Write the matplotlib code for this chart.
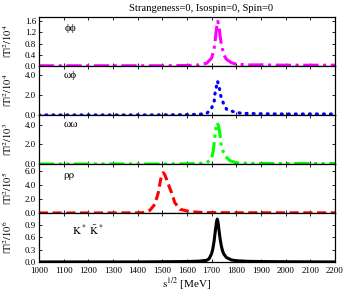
import numpy as np
import matplotlib
matplotlib.use("Agg")
import matplotlib.pyplot as plt

plt.rcParams['font.family'] = ['Liberation Serif', 'DejaVu Serif']
plt.rcParams['mathtext.fontset'] = 'stix'
plt.rcParams['font.size'] = 6.5

# phi phi  (units of 10^4)
x_pp = [1000, 1100, 1200, 1300, 1400, 1500, 1600, 1650, 1680, 1700, 1710, 1715, 1720, 1725,
        1730, 1735, 1740, 1750, 1760, 1780, 1800, 1850, 1900, 2000, 2100, 2200]
y_pp = [0.01, 0.01, 0.01, 0.01, 0.01, 0.01, 0.02, 0.04, 0.10, 0.28, 0.60, 0.95, 1.35, 1.60,
        1.42, 1.05, 0.75, 0.40, 0.24, 0.12, 0.07, 0.04, 0.04, 0.03, 0.03, 0.03]

# omega phi  (units of 10^4)
x_wp = [1000, 1100, 1200, 1300, 1400, 1500, 1600, 1650, 1681, 1700, 1711, 1713, 1719, 1724,
        1732, 1738, 1747, 1761, 1792, 1822, 1900, 2000, 2100, 2200]
y_wp = [0.0, 0.0, 0.0, 0.0, 0.0, 0.01, 0.03, 0.07, 0.17, 0.67, 1.43, 2.03, 2.77, 3.40,
        2.63, 1.83, 1.23, 0.57, 0.30, 0.17, 0.12, 0.10, 0.10, 0.10]

# omega omega  (units of 10^3)
x_ww = [1000, 1100, 1200, 1300, 1400, 1500, 1600, 1650, 1680, 1700, 1707, 1713, 1718, 1723,
        1728, 1734, 1740, 1754, 1774, 1801, 1850, 1900, 2000, 2100, 2200]
y_ww = [0.0, 0.0, 0.0, 0.0, 0.0, 0.0, 0.02, 0.05, 0.15, 0.50, 1.36, 2.74, 3.70, 4.20,
        3.90, 3.08, 1.71, 0.85, 0.34, 0.12, 0.07, 0.05, 0.05, 0.05, 0.05]

# rho rho  (units of 10^5)
x_rr = [1000, 1100, 1200, 1300, 1400, 1423, 1450, 1470, 1484, 1490, 1495, 1500, 1504, 1510,
        1520, 1530, 1538, 1551, 1572, 1612, 1666, 1700, 1800, 1900, 2000, 2100, 2200]
y_rr = [0.0, 0.0, 0.0, 0.0, 0.02, 0.05, 0.38, 1.24, 2.90, 4.10, 5.00, 5.55, 5.75, 5.50,
        4.60, 3.60, 2.90, 1.47, 0.53, 0.19, 0.07, 0.05, 0.03, 0.03, 0.02, 0.02, 0.02]

# K* anti-K*  (units of 10^6)
x_kk = [1000, 1200, 1400, 1500, 1600, 1650, 1680, 1690, 1700, 1705, 1710, 1715, 1720, 1723,
        1726, 1730, 1735, 1740, 1745, 1750, 1760, 1780, 1800, 1850, 1900, 2000, 2200]
y_kk = [0.0, 0.0, 0.0, 0.005, 0.01, 0.02, 0.04, 0.08, 0.20, 0.32, 0.50, 0.75, 0.98, 1.05,
        0.98, 0.78, 0.55, 0.38, 0.26, 0.19, 0.11, 0.05, 0.03, 0.015, 0.01, 0.005, 0.0]

panels = [
    (x_pp, y_pp, "#ff00ff", (0, (5, 1.5, 1, 1.5)), r"ϕϕ", 4, (0, 1.75), [0, 0.4, 0.8, 1.2, 1.6], 0.76, 1105),
    (x_wp, y_wp, "#0000ff", (0, (0.3, 1.9)), r"ωϕ", 4, (0, 4.9), [0, 2, 4], 0.8, 1101),
    (x_ww, y_ww, "#00ff00", (0, (5, 1.5, 1, 1.5, 1, 1.5)), r"ωω", 3, (0, 5.0), [0, 2, 4], 0.8, 1101),
    (x_rr, y_rr, "#ff0000", (0, (3, 1.5)), r"ρρ", 5, (0, 7.0), [0, 2, 4, 6], 0.76, 1097),
    (x_kk, y_kk, "#000000", "-", r"$\mathrm{K^*\ \bar{K}^*}$", 6, (0, 1.2), [0, 0.3, 0.6, 0.9], 0.64, 1134),
]

fig = plt.figure(figsize=(3.5, 2.94), dpi=100)
gs = fig.add_gridspec(5, 1, left=0.111, right=0.957, top=0.942, bottom=0.109, hspace=0)

for i, (xs, ys, col, ls, lab, exp, ylim, yt, ty, tx) in enumerate(panels):
    ax = fig.add_subplot(gs[i])
    if col == "#0000ff":
        ax.plot(xs, ys, color=col, linestyle=ls, lw=2.3, dash_capstyle='round')
    else:
        ax.plot(xs, ys, color=col, linestyle=ls, lw=2.2)
    ax.set_xlim(1000, 2200)
    ax.set_ylim(*ylim)
    ax.set_yticks(yt)
    ax.yaxis.set_major_formatter(matplotlib.ticker.FormatStrFormatter('%.1f'))
    ax.set_xticks(np.arange(1000, 2201, 100))
    ax.tick_params(direction='in', top=True, right=True, length=2.5, width=0.6, pad=2, labelsize=6.5)
    ax.tick_params(axis='x', pad=3.5)
    ax.set_ylabel(r"$\mathrm{|T|^2/10^%d}$" % exp, fontsize=7.5)
    ax.yaxis.set_label_coords(-0.085, 0.5)
    ax.text(tx, ylim[1] * ty, lab, fontsize=8, ha='left', va='center')
    for s in ax.spines.values():
        s.set_linewidth(0.9)
    if i < 4:
        ax.tick_params(labelbottom=False)
    else:
        ax.set_xlabel(r"$\mathrm{s^{1/2}}$ [MeV]", fontsize=8, labelpad=0.5)

fig.text(0.575, 0.972, "Strangeness=0, Isospin=0, Spin=0", ha='center', va='center', fontsize=7.6)

fig.savefig("out.png", dpi=100)
